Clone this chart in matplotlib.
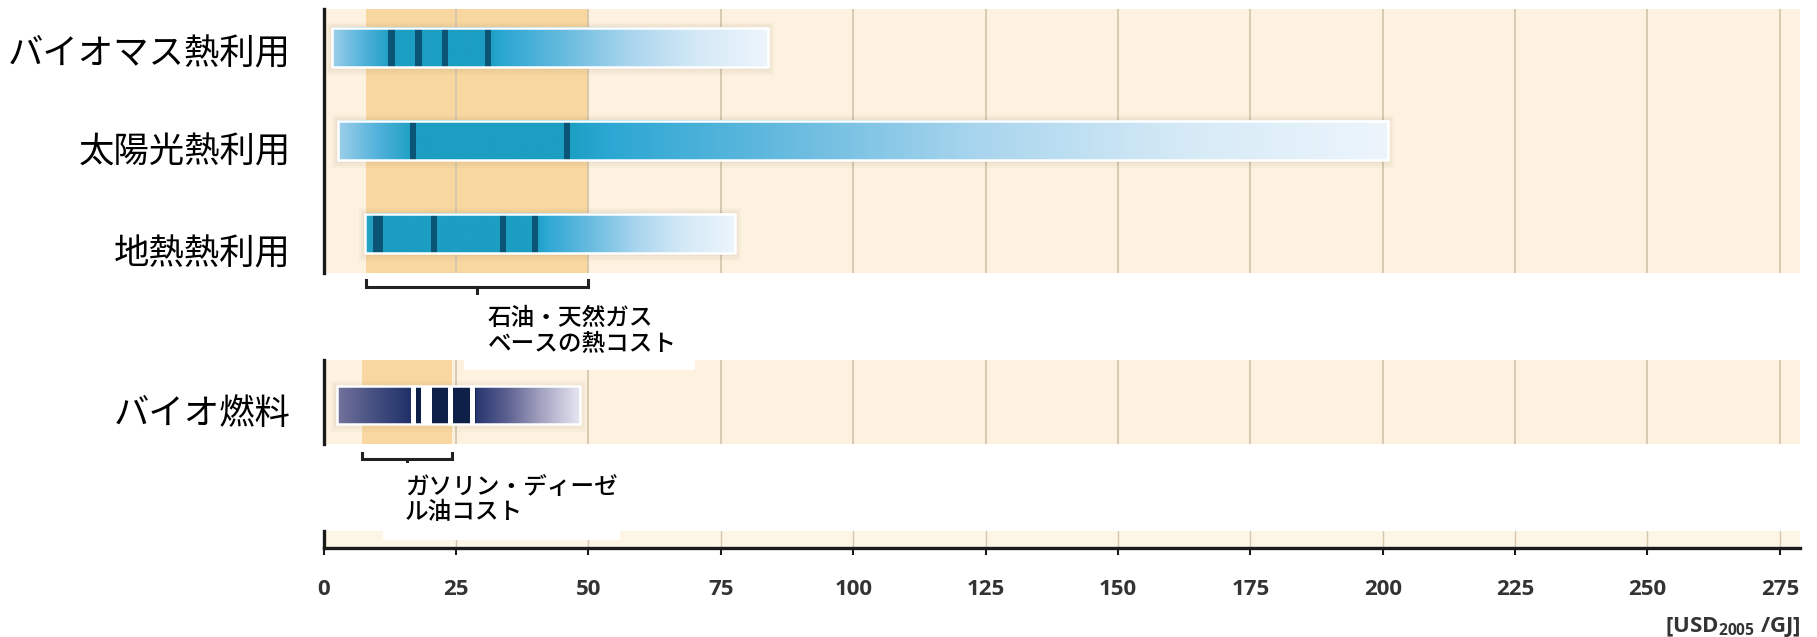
import numpy as np
import matplotlib
matplotlib.use("Agg")
import matplotlib.pyplot as plt
from matplotlib.patches import Rectangle
from matplotlib.colors import to_rgb
import matplotlib.transforms as mtransforms

# ---------------- data ----------------
categories = ['バイオマス熱利用', '太陽光熱利用', '地熱熱利用']
range_low = [1.5, 2.7, 7.8]
range_high = [83.9, 201.0, 77.7]
markers = [[12.8, 17.9, 22.9, 31.0],
           [16.9, 45.9],
           [10.3, 20.8, 33.8, 39.9]]

biofuel_label = 'バイオ燃料'
biofuel_low = 2.5
biofuel_high = 48.4
biofuel_markers = [17.0, 19.4, 24.0, 28.1]

heat_ref_range = [8.0, 50.0]
fuel_ref_range = [7.2, 24.3]
heat_ref_label = '石油・天然ガス\nベースの熱コスト'
fuel_ref_label = 'ガソリン・ディーゼ\nル油コスト'

x_ticks = [0, 25, 50, 75, 100, 125, 150, 175, 200, 225, 250, 275]
unit_label = '[USD$_\\mathregular{2005}$ /GJ]'

# ---------------- style / layout ----------------
JP = ['Noto Sans CJK JP', 'DejaVu Sans']
NUM = ['Open Sans', 'DejaVu Sans']
CREAM = '#fdf2e0'
BAND = '#f8d8a0'
GRID = '#d6c6ae'
TEAL = '#1b9ec2'
TEAL_DARK = '#0a5576'
NAVY = '#0e2048'
XMAX = 278.8

W, H = 1817, 637
X0, X1 = 323.7, 1800.0
fig = plt.figure(figsize=(W / 100, H / 100), dpi=100)


def px_axes(x0, y0, x1, y1):
    return fig.add_axes([x0 / W, 1 - y1 / H, (x1 - x0) / W, (y1 - y0) / H])


def fig_rect(x0, y0, x1, y1, **kw):
    r = Rectangle((x0 / W, 1 - y1 / H), (x1 - x0) / W, (y1 - y0) / H,
                  transform=fig.transFigure, **kw)
    fig.patches.append(r)
    return r


def interp_colors(xs, stops):
    sx = np.array([s[0] for s in stops])
    cols = np.array([to_rgb(s[1]) for s in stops])
    return np.stack([np.interp(xs, sx, cols[:, k]) for k in range(3)], axis=-1)


def gradient_bar(ax, y, h, low, high, stops, z=3):
    for i, a in enumerate([0.05, 0.04, 0.03]):
        d = 0.35 * (i + 1)
        ax.add_patch(Rectangle((low - d, y - h / 2 - 0.02 * (i + 1)), high - low + 2 * d,
                               h + 0.05 * (i + 1), facecolor='#7a6040', alpha=a,
                               edgecolor='none', zorder=z - 0.5))
    xs = np.linspace(low, high, 800)
    rgb = interp_colors(xs, stops)
    ax.imshow(rgb[None, :, :], extent=(low, high, y + h / 2, y - h / 2),
              aspect='auto', interpolation='bilinear', zorder=z)
    ax.add_patch(Rectangle((low, y - h / 2), high - low, h, fill=False,
                           edgecolor='white', lw=1.8, zorder=z + 2))


fade_profile = [(0.0, TEAL), (0.05, '#2ba7d3'), (0.25, '#62b9de'),
                (0.5, '#a9d5ee'), (0.75, '#d5eaf6'), (1.0, '#edf5fc')]

# ---------------- upper panel ----------------
ROW_PX = 93.0
ax1 = px_axes(X0, 8.5, X1, 273)
ax1.set_xlim(0, XMAX)
ax1.set_ylim((273 - 47.5) / ROW_PX, -(47.5 - 8.5) / ROW_PX)
ax1.set_facecolor(CREAM)
ax1.axvspan(heat_ref_range[0], heat_ref_range[1], color=BAND, zorder=0.2, lw=0)
bar_h = 0.42
for i, (lo, hi, mk) in enumerate(zip(range_low, range_high, markers)):
    first, last = min(mk), max(mk)
    left_col = '#9ccfea' if first - lo > 5 else '#27a2c4'
    stops = [(lo, left_col)]
    if first - lo > 5:
        stops.append((lo + 0.5 * (first - lo), '#55b3dc'))
    stops.append((first, TEAL))
    stops.append((last, TEAL))
    for f, c in fade_profile[1:]:
        stops.append((last + f * (hi - last), c))
    gradient_bar(ax1, i, bar_h, lo, hi, stops)
    for m in mk:
        w = 1.9 if m - lo < 3 else 1.15
        ax1.add_patch(Rectangle((m - w / 2, i - bar_h / 2), w, bar_h,
                                facecolor=TEAL_DARK, edgecolor='none', zorder=4))

hy, hy_top, hy_bot = 2.578, 2.495, 2.661
ax1.plot([heat_ref_range[0], heat_ref_range[0], heat_ref_range[1], heat_ref_range[1]],
         [hy_top, hy, hy, hy_top], color='#222222', lw=2.2, clip_on=False,
         solid_joinstyle='miter', zorder=6)
mid = (heat_ref_range[0] + heat_ref_range[1]) / 2
ax1.plot([mid, mid], [hy, hy_bot], color='#222222', lw=2.2, clip_on=False, zorder=6)

# ---------------- biofuel panel ----------------
ax2 = px_axes(X0, 360, X1, 444)
ax2.set_xlim(0, XMAX)
ax2.set_ylim((444 - 405) / ROW_PX, -(405 - 360) / ROW_PX)
ax2.set_facecolor(CREAM)
ax2.axvspan(fuel_ref_range[0], fuel_ref_range[1], color=BAND, zorder=0.2, lw=0)
bh2 = 0.40
bf_first, bf_last = min(biofuel_markers) - 0.4, max(biofuel_markers) + 0.5
span_l = bf_first - biofuel_low
span_r = biofuel_high - bf_last
bf_stops = [(biofuel_low, '#74749c'), (biofuel_low + 0.45 * span_l, '#4a5384'),
            (bf_first, '#1e3068'), (bf_first + 0.01, NAVY), (bf_last - 0.01, NAVY),
            (bf_last, '#263670'), (bf_last + 0.3 * span_r, '#5d6190'),
            (bf_last + 0.59 * span_r, '#9d9cbc'), (biofuel_high, '#e8e8f3')]
gradient_bar(ax2, 0, bh2, biofuel_low, biofuel_high, bf_stops)
gap_w = [0.9, 2.0, 1.0, 1.0]
for m, w in zip(biofuel_markers, gap_w):
    ax2.add_patch(Rectangle((m - w / 2, -bh2 / 2), w, bh2, facecolor='white',
                            edgecolor='none', zorder=4))
fy, fy_top, fy_bot = 0.584, 0.519, 0.656
ax2.plot([fuel_ref_range[0], fuel_ref_range[0], fuel_ref_range[1], fuel_ref_range[1]],
         [fy_top, fy, fy, fy_top], color='#222222', lw=2.2, clip_on=False,
         solid_joinstyle='miter', zorder=6)
mid2 = (fuel_ref_range[0] + fuel_ref_range[1]) / 2
ax2.plot([mid2, mid2], [fy, fy_bot], color='#222222', lw=2.2, clip_on=False, zorder=6)

for ax in (ax1, ax2):
    ax.set_xticks(x_ticks)
    ax.set_yticks([])
    ax.tick_params(axis='x', length=0, labelbottom=False)
    ax.grid(axis='x', color=GRID, lw=1.3)
    ax.set_axisbelow(True)
    for s in ('top', 'right', 'bottom'):
        ax.spines[s].set_visible(False)
    ax.spines['left'].set_linewidth(2.4)
    ax.spines['left'].set_color('#1a1a1a')

# category labels
label_rows = [0.08, 1.125, 2.225]
tr1 = mtransforms.blended_transform_factory(ax1.transAxes, ax1.transData)
lx = (291 - X0) / (X1 - X0)
for name, yr in zip(categories, label_rows):
    ax1.text(lx, yr, name, transform=tr1, ha='right', va='center',
             fontsize=25.5, family=JP, color='black')
tr2 = mtransforms.blended_transform_factory(ax2.transAxes, ax2.transData)
ax2.text(lx, 0.1, biofuel_label, transform=tr2, ha='right', va='center',
         fontsize=25.5, family=JP, color='black')

# ---------------- bottom axis ----------------
ax3 = px_axes(X0, 531, X1, 548)
ax3.set_xlim(0, XMAX)
ax3.set_ylim(0, 1)
ax3.set_facecolor('#fdf5e6')
ax3.set_xticks(x_ticks)
ax3.set_xticklabels([str(t) for t in x_ticks], family=NUM, fontweight='bold',
                    fontsize=16, color='#333333')
ax3.set_yticks([])
ax3.tick_params(axis='x', direction='out', length=5, width=1.5, pad=17, color='#1a1a1a')
ax3.grid(axis='x', color=GRID, lw=1.0)
ax3.set_axisbelow(True)
for s in ('top', 'right'):
    ax3.spines[s].set_visible(False)
for s in ('bottom', 'left'):
    ax3.spines[s].set_linewidth(2.4)
    ax3.spines[s].set_color('#1a1a1a')

fig.text(1801 / W, 1 - 639 / H, unit_label, ha='right', va='bottom',
         fontsize=16, fontweight='bold', family=NUM, color='#333333')

# ---------------- reference text boxes ----------------
fig_rect(463.5, 295, 695, 370, facecolor='white', edgecolor='none', zorder=5)
fig_rect(383, 463, 620, 540, facecolor='white', edgecolor='none', zorder=5)
fig.text(488 / W, 1 - 307 / H, heat_ref_label, ha='left', va='top',
         fontsize=17, family=JP, fontweight='medium', linespacing=1.1,
         color='black', zorder=10)
fig.text(405 / W, 1 - 476 / H, fuel_ref_label, ha='left', va='top',
         fontsize=17, family=JP, fontweight='medium', linespacing=1.12,
         color='black', zorder=10)

fig.savefig('out.png', dpi=100)
